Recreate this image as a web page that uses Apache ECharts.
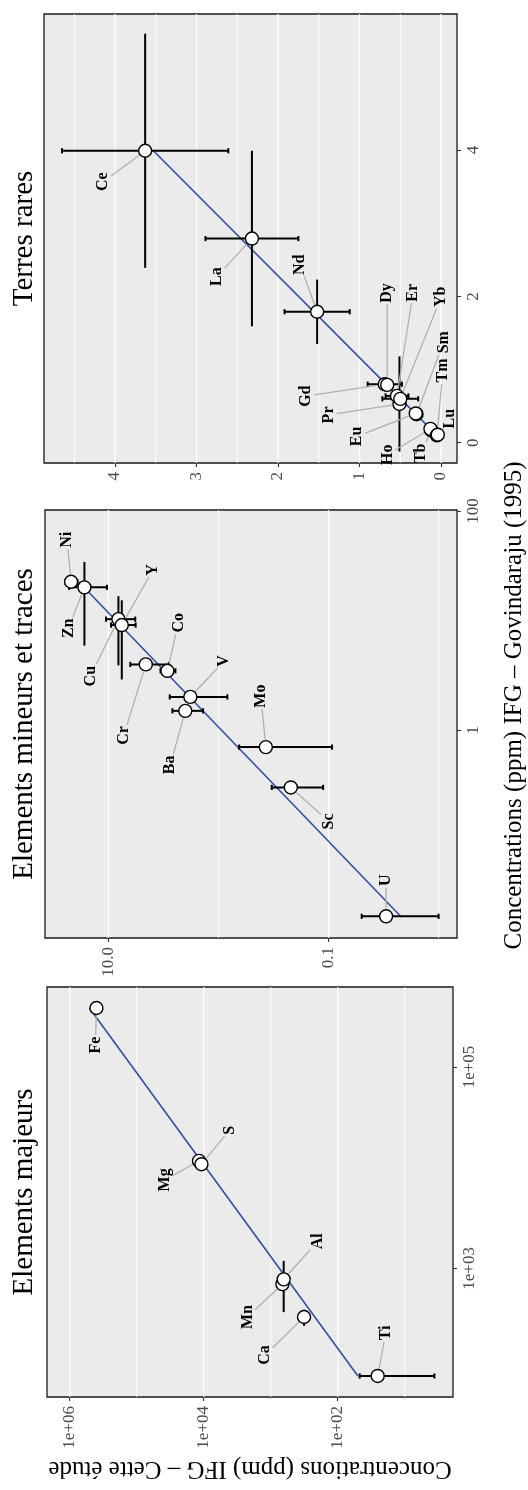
<!DOCTYPE html>
<html><head><meta charset="utf-8">
<script src="https://cdn.jsdelivr.net/npm/echarts@6/dist/echarts.min.js"></script>
<style>html,body{margin:0;padding:0;background:#fff}#c{width:528px;height:1490px}</style>
</head><body><div id="c"></div>
<script>
// ===== DATA =====
// Terres rares (ppm): "Cette étude" value / sd, Govindaraju (1995) value / sd
const reeNames      = ['La','Ce','Pr','Nd','Sm','Eu','Gd','Tb','Dy','Ho','Er','Tm','Yb','Lu'];
const reeCette      = [2.32, 3.63, 0.51, 1.52, 0.30, 0.31, 0.69, 0.12, 0.66, 0.13, 0.54, 0.05, 0.50, 0.04];
const reeCetteErr   = [0.57, 1.02, 0.05, 0.40, 0.06, 0.06, 0.21, 0.02, 0.05, 0.02, 0.14, 0.01, 0.22, 0.01];
const reeGovind     = [2.79, 3.99, 0.53, 1.79, 0.39, 0.40, 0.80, 0.17, 0.79, 0.19, 0.64, 0.10, 0.60, 0.11];
const reeGovindErr  = [1.20, 1.60, 0.65, 0.44, 0.06, 0.05, 0.03, 0.01, 0.05, 0.01, 0.03, 0.01, 0.03, 0.01];
const reeXTicks = [0, 1, 2, 3, 4];
const reeXTickLabels = ['0', '1', '2', '3', '4'];
const reeXGrid = [0, 0.5, 1, 1.5, 2, 2.5, 3, 3.5, 4, 4.5];
const reeYTicks = [0, 2, 4];
const reeYTickLabels = ['0', '2', '4'];

// Elements mineurs et traces (ppm)
const minNames      = ['Ni','Zn','Cu','Y','Cr','Co','V','Ba','Mo','Sc','U'];
const minCette      = [21.8, 16.5, 8.1, 7.55, 4.57, 2.91, 1.80, 2.00, 0.371, 0.22, 0.030];
const minCetteErr   = [2.7, 6.2, 2.4, 1.9, 1.75, 0.45, 0.97, 0.62, 0.278, 0.108, 0.020];
const minGovind     = [22.6, 20.1, 10.3, 9.1, 3.98, 3.48, 2.01, 1.50, 0.70, 0.30, 0.020];
const minGovindErr  = [0.5, 14.2, 6.4, 6.2, 0.2, 0.2, 0.1, 0.1, 0.03, 0.02, 0.001];
const minXTicks = [10, 0.1];
const minXTickLabels = ['10.0', '0.1'];
const minXGrid = [10, 1, 0.1, 0.01];
const minYTicks = [1, 100];
const minYTickLabels = ['1', '100'];

// Elements majeurs (ppm)
const majNames      = ['Ti','Ca','Mn','Al','Mg','S','Fe'];
const majCette      = [25.3, 318, 668, 640, 11750, 10810, 399000];
const majCetteErr   = [21.7, 20, 30, 30, 600, 600, 20000];
const majGovind     = [85.5, 329, 698, 778, 11680, 10830, 385000];
const majGovindErr  = [3, 60, 30, 410, 500, 500, 15000];
const majXTicks = [1e6, 1e4, 1e2];
const majXTickLabels = ['1e+06', '1e+04', '1e+02'];
const majXGrid = [1e6, 1e5, 1e4, 1e3, 1e2, 1e1];
const majYTicks = [1e3, 1e5];
const majYTickLabels = ['1e+03', '1e+05'];

// ===== LAYOUT (label nudges in px, image orientation) =====
const reeLabelOffsets = [[-35,38],[-42,31],[-71,11],[-17,-47],[27,-72],[-59,23],[-79,12],[-10,23],[0,-92],[-43,26],[16,-103],[6,-65],[41,-102],[12,-16]];
const minLabelOffsets = [[-4,-42],[-16,41],[-28,57],[31,-55],[-22,71],[11,-48],[34,-36],[-15,54],[-5,-51],[38,34],[0,-36]];
const majLabelOffsets = [[8,-43],[-39,38],[-35,33],[34,-38],[-34,19],[28,-34],[-1,37]];

const FONT = '"Liberation Serif", "DejaVu Serif", "Times New Roman", serif';
const ident = v => v;
const lg = v => Math.log10(v);

const panels = [
  { title: 'Terres rares', names: reeNames, c: reeCette, ce: reeCetteErr, g: reeGovind, ge: reeGovindErr,
    off: reeLabelOffsets, tf: ident, grid: {left: 44, top: 14, width: 413, height: 449},
    xr: [-0.196, 4.871], yr: [-0.277, 5.859],
    xt: reeXTicks, xl: reeXTickLabels, xg: reeXGrid, yt: reeYTicks, yl: reeYTickLabels },
  { title: 'Elements mineurs et traces', names: minNames, c: minCette, ce: minCetteErr, g: minGovind, ge: minGovindErr,
    off: minLabelOffsets, tf: lg, grid: {left: 45, top: 510, width: 412, height: 428},
    xr: [-2.167, 1.5755], yr: [-1.897, 2.009],
    xt: minXTicks, xl: minXTickLabels, xg: minXGrid, yt: minYTicks, yl: minYTickLabels },
  { title: 'Elements majeurs', names: majNames, c: majCette, ce: majCetteErr, g: majGovind, ge: majGovindErr,
    off: majLabelOffsets, tf: lg, grid: {left: 47, top: 987, width: 406, height: 410},
    xr: [0.279, 6.339], yr: [1.723, 5.794],
    xt: majXTicks, xl: majXTickLabels, xg: majXGrid, yt: majYTicks, yl: majYTickLabels }
];

const mctx = document.createElement('canvas').getContext('2d');
function textWidth(t, font) { mctx.font = font; return mctx.measureText(t).width; }

function lm(xs, ys) {
  const n = xs.length;
  const mx = xs.reduce((a, b) => a + b, 0) / n, my = ys.reduce((a, b) => a + b, 0) / n;
  let sxy = 0, sxx = 0;
  for (let i = 0; i < n; i++) { sxy += (xs[i] - mx) * (ys[i] - my); sxx += (xs[i] - mx) * (xs[i] - mx); }
  const b = sxy / sxx;
  return { a: my - b * mx, b };
}

const grids = [], xAxes = [], yAxes = [], series = [], graphics = [];
const LBL_FONT_SIZE = 16;
const LBL_FONT = 'bold ' + LBL_FONT_SIZE + 'px ' + FONT;

panels.forEach((p, k) => {
  const tf = p.tf;
  grids.push(Object.assign({ show: true, backgroundColor: '#EBEBEB', borderColor: '#1a1a1a', borderWidth: 1.3, containLabel: false }, p.grid));
  const xTickVals = p.xt.map(tf), yTickVals = p.yt.map(tf);
  const fmt = (vals, labels) => (v) => { for (let i = 0; i < vals.length; i++) if (Math.abs(vals[i] - v) < 1e-6) return labels[i]; return ''; };
  xAxes.push({
    type: 'value', gridIndex: k, position: 'bottom', inverse: true, min: p.xr[0], max: p.xr[1],
    axisLine: { show: false, onZero: false }, splitLine: { show: false },
    axisTick: { show: true, length: 4, customValues: xTickVals, lineStyle: { color: '#333', width: 1.1 } },
    axisLabel: { customValues: xTickVals, formatter: fmt(xTickVals, p.xl), rotate: 90, margin: 9,
      color: '#4d4d4d', fontFamily: FONT, fontSize: 17 }
  });
  yAxes.push({
    type: 'value', gridIndex: k, position: 'right', min: p.yr[0], max: p.yr[1],
    axisLine: { show: false, onZero: false }, splitLine: { show: false },
    axisTick: { show: true, length: 4, customValues: yTickVals, lineStyle: { color: '#333', width: 1.1 } },
    axisLabel: { customValues: yTickVals, formatter: fmt(yTickVals, p.yl), rotate: 90, margin: 8,
      color: '#4d4d4d', fontFamily: FONT, fontSize: 17 }
  });

  // grid lines (vertical in the picture)
  const majorSet = xTickVals;
  series.push({
    type: 'custom', xAxisIndex: k, yAxisIndex: k, z: 1, silent: true, clip: false,
    data: p.xg.map(v => [tf(v), p.yr[0]]),
    renderItem: (params, api) => {
      const v = api.value(0);
      const x = api.coord([v, p.yr[0]])[0];
      const cs = params.coordSys;
      const isMajor = majorSet.some(m => Math.abs(m - v) < 1e-6);
      return { type: 'line', shape: { x1: x, y1: cs.y, x2: x, y2: cs.y + cs.height },
        style: { stroke: '#ffffff', lineWidth: isMajor ? 1.4 : 0.8 } };
    }
  });

  // regression line in transformed space
  const gT = p.g.map(tf), cT = p.c.map(tf);
  const fit = lm(gT, cT);
  const gMin = Math.min(...gT), gMax = Math.max(...gT);
  series.push({
    type: 'line', xAxisIndex: k, yAxisIndex: k, z: 3, silent: true, showSymbol: false, symbol: 'none',
    data: [[fit.a + fit.b * gMin, gMin], [fit.a + fit.b * gMax, gMax]],
    lineStyle: { color: '#2f4fa8', width: 1.6 }, animation: false
  });

  // error bars
  series.push({
    type: 'custom', xAxisIndex: k, yAxisIndex: k, z: 4, silent: true, clip: false,
    data: p.names.map((n, i) => [cT[i], gT[i]]),
    renderItem: (params, api) => {
      const i = params.dataIndex;
      const c = p.c[i], g = p.g[i], ec = p.ce[i], eg = p.ge[i];
      const a0 = api.coord([tf(c - ec), tf(g)]), a1 = api.coord([tf(c + ec), tf(g)]);
      const b0 = api.coord([tf(c), tf(g - eg)]), b1 = api.coord([tf(c), tf(g + eg)]);
      const st = { stroke: '#000', lineWidth: 2 };
      const cap = 2.6;
      return { type: 'group', children: [
        { type: 'line', shape: { x1: a0[0], y1: a0[1], x2: a1[0], y2: a1[1] }, style: st },
        { type: 'line', shape: { x1: a0[0], y1: a0[1] - cap, x2: a0[0], y2: a0[1] + cap }, style: st },
        { type: 'line', shape: { x1: a1[0], y1: a1[1] - cap, x2: a1[0], y2: a1[1] + cap }, style: st },
        { type: 'line', shape: { x1: b0[0], y1: b0[1], x2: b1[0], y2: b1[1] }, style: st }
      ] };
    }
  });

  // repelled labels with leader segments
  series.push({
    type: 'custom', xAxisIndex: k, yAxisIndex: k, z: 5, silent: true, clip: false,
    data: p.names.map((n, i) => [cT[i], gT[i]]),
    renderItem: (params, api) => {
      const i = params.dataIndex;
      const name = p.names[i];
      const P = api.coord([cT[i], gT[i]]);
      const o = p.off[i];
      const L = [P[0] + o[0], P[1] + o[1]];
      const tw = textWidth(name, LBL_FONT);
      const hx = LBL_FONT_SIZE * 0.42, hy = tw / 2;
      const dx = P[0] - L[0], dy = P[1] - L[1];
      const dist = Math.sqrt(dx * dx + dy * dy);
      const children = [];
      if (dist > 0) {
        const ux = dx / dist, uy = dy / dist;
        const sBox = Math.min(Math.abs(ux) > 1e-6 ? hx / Math.abs(ux) : 1e9, Math.abs(uy) > 1e-6 ? hy / Math.abs(uy) : 1e9) + 1.5;
        const sEnd = dist - 7.5;
        if (sEnd - sBox > 3) {
          children.push({ type: 'line', shape: { x1: L[0] + ux * sBox, y1: L[1] + uy * sBox, x2: L[0] + ux * sEnd, y2: L[1] + uy * sEnd },
            style: { stroke: '#b0b0b0', lineWidth: 1.3 } });
        }
      }
      children.push({ type: 'text', x: L[0], y: L[1], rotation: Math.PI / 2,
        style: { text: name, fill: '#000', fontFamily: FONT, fontWeight: 'bold', fontSize: LBL_FONT_SIZE, align: 'center', verticalAlign: 'middle' } });
      return { type: 'group', children };
    }
  });

  // points
  series.push({
    type: 'scatter', xAxisIndex: k, yAxisIndex: k, z: 6, silent: true, symbol: 'circle', symbolSize: 13,
    data: p.names.map((n, i) => [cT[i], gT[i]]),
    itemStyle: { color: '#ffffff', borderColor: '#000', borderWidth: 1.4, opacity: 1 }
  });

  // panel title
  graphics.push({ type: 'text', x: 24, y: p.grid.top + p.grid.height / 2, rotation: Math.PI / 2,
    style: { text: p.title, fill: '#000', fontFamily: FONT, fontSize: 29, align: 'center', verticalAlign: 'middle' } });
});

graphics.push({ type: 'text', x: 514, y: 705.5, rotation: Math.PI / 2,
  style: { text: 'Concentrations (ppm) IFG – Govindaraju (1995)', fill: '#000', fontFamily: FONT, fontSize: 25, align: 'center', verticalAlign: 'middle' } });
graphics.push({ type: 'text', x: 250, y: 1469, rotation: Math.PI,
  style: { text: 'Concentrations (ppm) IFG – Cette étude', fill: '#000', fontFamily: FONT, fontSize: 25, align: 'center', verticalAlign: 'middle' } });

const chart = echarts.init(document.getElementById('c'), null, { renderer: 'canvas' });
chart.setOption({
  animation: false,
  backgroundColor: '#ffffff',
  grid: grids, xAxis: xAxes, yAxis: yAxes, series: series, graphic: graphics
});
</script>
</body></html>
